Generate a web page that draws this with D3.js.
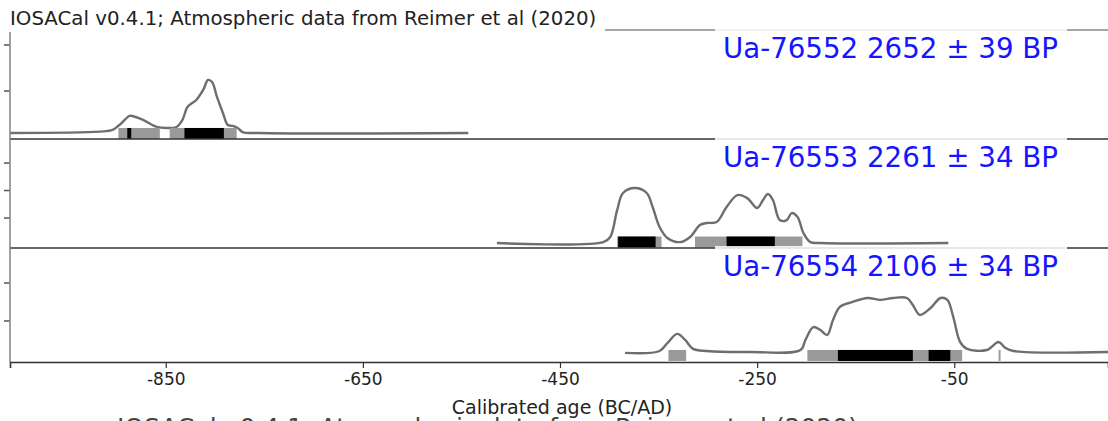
<!DOCTYPE html>
<html>
<head>
<meta charset="utf-8">
<script src="https://cdn.jsdelivr.net/npm/d3@7"></script>
<style>
  body { margin: 0; background: #fff; }
  svg { display: block; font-family: "DejaVu Sans", sans-serif; }
</style>
</head>
<body>
<div class="canvas"></div>
<script>
// ---- data ----
const titleText = 'IOSACal v0.4.1; Atmospheric data from Reimer et al (2020)';
const axisLabel = 'Calibrated age (BC/AD)';
const sampleLabels = ['Ua-76552 2652 ± 39 BP', 'Ua-76553 2261 ± 34 BP', 'Ua-76554 2106 ± 34 BP'];
const xTicks = [-850, -650, -450, -250, -50];

// calibrated probability (per mille per year)
const years1 = [-1008, -917, -904, -897, -887, -884, -873, -859, -849, -839, -833, -828, -819, -812, -807, -803, -798, -792, -787, -782, -777, -772, -755, -543];
const dens1 = [0.43, 0.58, 0.76, 1.30, 2.28, 2.28, 1.85, 1.09, 0.98, 1.09, 1.85, 3.26, 4.02, 5.11, 6.20, 5.98, 4.35, 2.61, 1.30, 1.20, 0.98, 0.54, 0.43, 0.43];

const years2 = [-514, -406, -399, -392, -386, -374, -362, -356, -349, -341, -328, -318, -308, -301, -291, -281, -270, -260, -250, -244, -239, -234, -227, -220, -215, -209, -203, -196, -186, -56];
const dens2 = [0.18, 0.25, 0.62, 2.58, 3.82, 4.18, 3.82, 2.80, 1.35, 0.55, 0.25, 0.62, 1.49, 1.64, 1.71, 2.80, 3.67, 3.45, 2.73, 3.31, 3.75, 3.31, 1.85, 1.85, 2.36, 2.07, 0.91, 0.25, 0.18, 0.18];

const years3 = [-384, -349, -341, -331, -323, -315, -301, -257, -206, -201, -193, -186, -179, -173, -166, -153, -138, -125, -112, -98, -92, -85, -74, -64, -57, -51, -44, -37, -17, -5, 2, 10, 106];
const dens3 = [0.32, 0.42, 0.84, 1.32, 1.00, 0.53, 0.42, 0.37, 0.47, 1.00, 1.68, 1.53, 1.26, 2.05, 2.74, 3.00, 3.21, 3.11, 3.21, 3.21, 2.84, 2.32, 2.68, 3.21, 3.11, 2.21, 0.89, 0.53, 0.47, 0.89, 0.58, 0.42, 0.37];

// highest posterior density ranges
const hpd95_1 = [[-898, -856], [-846, -778]];
const hpd68_1 = [[-889, -885], [-831, -791]];
const hpd95_2 = [[-392, -347], [-313, -204]];
const hpd68_2 = [[-391, -353], [-281, -232]];
const hpd95_3 = [[-340, -322], [-199, -42], [-5, -3]];
const hpd68_3 = [[-168, -92], [-76, -54]];

const yTicks1 = [5, 10];
const yTicks2 = [2, 4, 6];
const yTicks3 = [2, 4];

// ---- layout ----
const W = 1108, H = 421;
const left = 10, right = 1108;
const panels = [
  {years: years1, dens: dens1, hpd95: hpd95_1, hpd68: hpd68_1, ticks: yTicks1, top: 30, bottom: 139, ylim: [-0.22, 11.63]},
  {years: years2, dens: dens2, hpd95: hpd95_2, hpd68: hpd68_2, ticks: yTicks2, top: 139, bottom: 248, ylim: [-0.18, 7.75]},
  {years: years3, dens: dens3, hpd95: hpd95_3, hpd68: hpd68_3, ticks: yTicks3, top: 248, bottom: 362, ylim: [-0.16, 5.84]}
];

const svg = d3.select('.canvas')
  .append('svg')
  .attr('width', W)
  .attr('height', H);

const x = d3.scaleLinear()
  .domain([-1008, 106])
  .range([left, right]);

// panels: curves and hpd bars
panels.forEach((p, i) => {
  const y = d3.scaleLinear().domain(p.ylim).range([p.bottom, p.top]);
  const g = svg.append('g');

  const pts = p.years.map((yr, j) => ({yr, d: p.dens[j]}));
  const line = d3.line()
    .x(d => x(d.yr))
    .y(d => y(d.d))
    .curve(d3.curveCatmullRom.alpha(0.5));

  g.append('path')
    .datum(pts)
    .attr('d', line)
    .attr('fill', 'none')
    .attr('stroke', '#6e6e6e')
    .attr('stroke-width', 2.4);

  //hpd bars (95% grey, 68% black)
  const barTop = y(0) - 9, barH = 11;
  g.selectAll('rect.h95')
    .data(p.hpd95)
    .enter().append('rect')
      .attr('x', d => x(d[0]))
      .attr('width', d => Math.max(1.5, x(d[1]) - x(d[0])))
      .attr('y', barTop)
      .attr('height', barH)
      .attr('fill', '#9a9a9a');
  g.selectAll('rect.h68')
    .data(p.hpd68)
    .enter().append('rect')
      .attr('x', d => x(d[0]))
      .attr('width', d => x(d[1]) - x(d[0]))
      .attr('y', barTop)
      .attr('height', barH)
      .attr('fill', '#000');

  // y ticks (no labels)
  g.selectAll('line.yt')
    .data(p.ticks)
    .enter().append('line')
      .attr('x1', left - 6).attr('x2', left)
      .attr('y1', d => y(d)).attr('y2', d => y(d))
      .attr('stroke', '#555')
      .attr('stroke-width', 1.5);
});

// frame lines
const frameYs = [30, 139, 248];
svg.selectAll('line.frame')
  .data(frameYs)
  .enter().append('line')
    .attr('x1', left).attr('x2', right)
    .attr('y1', d => d).attr('y2', d => d)
    .attr('stroke', (d, i) => i == 0 ? '#888' : '#333')
    .attr('stroke-width', 1.6);

svg.append('line')
  .attr('x1', left).attr('x2', left)
  .attr('y1', 30).attr('y2', 362)
  .attr('stroke', '#8a8a8a')
  .attr('stroke-width', 1.6);

// x axis
const xAxis = d3.axisBottom(x)
  .tickValues(xTicks)
  .tickSize(6)
  .tickPadding(5)
  .tickFormat(d => String(d));

const axisG = svg.append('g')
  .attr('transform', 'translate(0,362)')
  .call(xAxis);
axisG.select('.domain').attr('stroke', '#333').attr('stroke-width', 1.6);
axisG.selectAll('.tick line').attr('stroke', '#333').attr('stroke-width', 1.2);
axisG.selectAll('.tick text')
  .attr('fill', '#222')
  .style('font-size', '17px')
  .style('font-family', '"DejaVu Sans", sans-serif');

// repeated title, cut by the bottom edge
svg.append('text')
  .attr('x', 117).attr('y', 436)
  .attr('fill', '#444')
  .style('font-size', '25px')
  .text(titleText);

svg.append('text')
  .attr('x', 562).attr('y', 414)
  .attr('text-anchor', 'middle')
  .attr('fill', '#222')
  .style('font-size', '19px')
  .text(axisLabel);

// sample labels with white boxes
panels.forEach((p, i) => {
  svg.append('rect')
    .attr('x', 715).attr('y', p.top - 2)
    .attr('width', 352).attr('height', 38)
    .attr('fill', '#fff')
    .attr('fill-opacity', 0.85);
  svg.append('text')
    .attr('x', 1058).attr('y', p.top + 28)
    .attr('text-anchor', 'end')
    .attr('fill', '#1515ff')
    .style('font-size', '27.7px')
    .text(sampleLabels[i]);
});

// title with white box
svg.append('rect')
  .attr('x', 0).attr('y', 0)
  .attr('width', 605).attr('height', 32)
  .attr('fill', '#fff');
svg.append('text')
  .attr('x', 10).attr('y', 25)
  .attr('fill', '#222')
  .style('font-size', '19.8px')
  .text(titleText);
</script>
</body>
</html>
